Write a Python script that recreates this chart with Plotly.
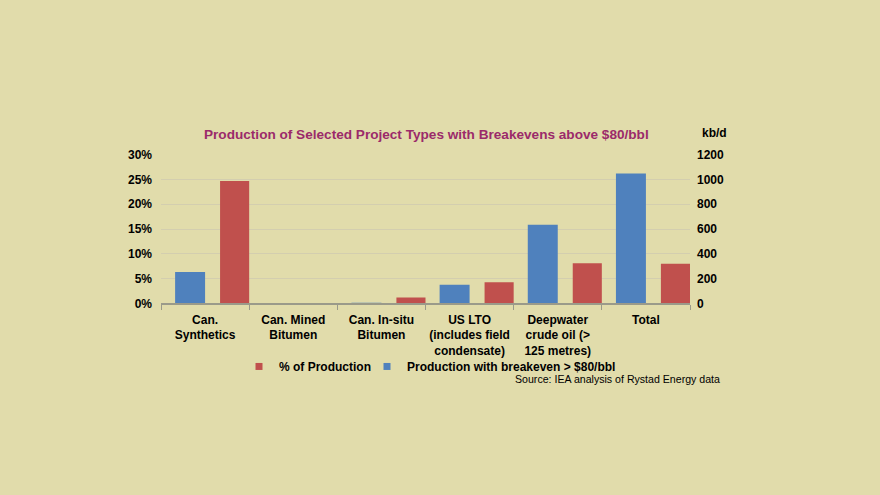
import plotly.graph_objects as go

categories = [
    "Can.<br>Synthetics",
    "Can. Mined<br>Bitumen",
    "Can. In-situ<br>Bitumen",
    "US LTO<br>(includes field<br>condensate)",
    "Deepwater<br>crude oil (><br>125 metres)",
    "Total",
]
pct_production = [0.247, 0.0, 0.012, 0.0425, 0.081, 0.080]
prod_above_80 = [253, 0, 5, 151, 635, 1049]

left_ticks = [0, 0.05, 0.10, 0.15, 0.20, 0.25, 0.30]
right_ticks = [0, 200, 400, 600, 800, 1000, 1200]

bg = '#E1DCAB'
red = '#C0504D'
blue = '#4F81BD'
font_family = 'Liberation Sans, Arial, sans-serif'

fig = go.Figure()

# red series on primary (left, %) axis
fig.add_trace(go.Bar(
    x=categories, y=pct_production, name='% of Production',
    marker=dict(color=red, line=dict(width=0)),
    offset=0.17, width=0.33, yaxis='y', showlegend=False
))
# blue series on secondary (right, kb/d) axis
fig.add_trace(go.Bar(
    x=categories, y=prod_above_80, name='Production with breakeven > $80/bbl',
    marker=dict(color=blue, line=dict(width=0)),
    offset=-0.34, width=0.34, yaxis='y2', showlegend=False
))

# legend entries with small square keys, one legend box each so the
# spacing can match the original
for name, color, lg in [('% of Production', red, 'legend'),
                        ('Production with breakeven > $80/bbl', blue, 'legend2')]:
    fig.add_trace(go.Scatter(
        x=[None], y=[None], mode='markers', name=name,
        marker=dict(symbol='square', size=7, color=color),
        legend=lg,
    ))

legend_style = dict(
    orientation='h',
    xanchor='left',
    y=(495 - 355) / 495, yanchor='top',
    bgcolor='rgba(0,0,0,0)',
    font=dict(size=12, color='black', weight='bold'),
    itemwidth=30,
)

fig.update_layout(
    width=880,
    height=495,
    paper_bgcolor=bg,
    plot_bgcolor=bg,
    margin=dict(l=0, r=0, t=0, b=0),
    barmode='overlay',
    font=dict(family=font_family, size=12, color='black'),
    xaxis=dict(
        domain=[161 / 880, 690 / 880],
        showline=True, linecolor='#9A9A8A', linewidth=1.5,
        ticks='outside', tickson='boundaries', ticklen=5, tickcolor='#9A9A8A',
        tickangle=0,
        tickfont=dict(size=12, color='black', weight='bold'),
        ticklabelstandoff=4,
        showgrid=False,
    ),
    yaxis=dict(
        domain=[190 / 495, 343 / 495],
        range=[0, 0.30],
        tickvals=left_ticks,
        tickformat='.0%',
        tickfont=dict(size=12, color='black', weight='bold'),
        showgrid=True, gridcolor='#D3CEAF', gridwidth=1,
        zeroline=False, showline=False,
        ticklabelstandoff=8,
    ),
    yaxis2=dict(
        overlaying='y', side='right',
        range=[0, 1200],
        tickvals=right_ticks,
        tickfont=dict(size=12, color='black', weight='bold'),
        showgrid=False, zeroline=False, showline=False,
        ticklabelstandoff=6,
    ),
    showlegend=True,
    legend=dict(x=239 / 880, **legend_style),
    legend2=dict(x=367 / 880, **legend_style),
)

fig.add_annotation(
    text='Production of Selected Project Types with Breakevens above $80/bbl',
    x=426 / 880, y=(495 - 131) / 495, xref='paper', yref='paper',
    showarrow=False, xanchor='center', yanchor='middle',
    font=dict(size=13.6, color='#9B2A6A', weight='bold', family=font_family),
)
fig.add_annotation(
    text='kb/d',
    x=700 / 880, y=(495 - 130) / 495, xref='paper', yref='paper',
    showarrow=False, xanchor='left', yanchor='middle',
    font=dict(size=12, color='black', weight='bold', family=font_family),
)
fig.add_annotation(
    text='Source: IEA analysis of Rystad Energy data',
    x=722 / 880, y=(495 - 383) / 495, xref='paper', yref='paper',
    showarrow=False, xanchor='right', yanchor='middle',
    font=dict(size=10.6, color='black', family=font_family),
)

fig.write_html("out.html", config={'displayModeBar': False},
               post_script="document.body.style.margin='0';")
